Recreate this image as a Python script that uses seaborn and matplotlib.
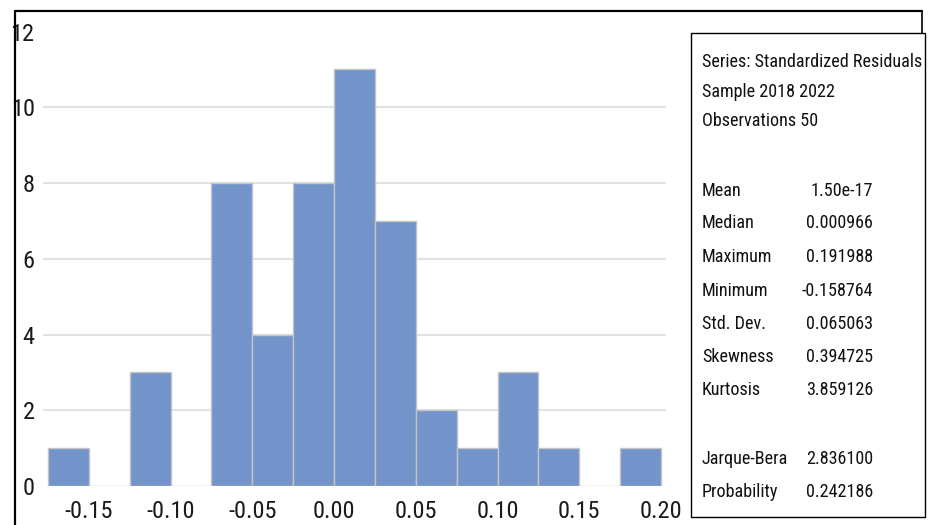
import matplotlib
matplotlib.use("Agg")
import matplotlib.pyplot as plt
import seaborn as sns
from matplotlib import font_manager
from matplotlib.font_manager import FontProperties
from matplotlib.lines import Line2D
from matplotlib.patches import Rectangle

# histogram of standardized residuals (counts per bin)
bin_edges = [-0.175, -0.15, -0.125, -0.10, -0.075, -0.05, -0.025, 0.0,
             0.025, 0.05, 0.075, 0.10, 0.125, 0.15, 0.175, 0.20]
bin_counts = [1, 0, 3, 0, 8, 4, 8, 11, 7, 2, 1, 3, 1, 0, 1]

x_ticks = [-0.15, -0.10, -0.05, 0.00, 0.05, 0.10, 0.15, 0.20]
x_tick_labels = ["-0.15", "-0.10", "-0.05", "0.00", "0.05", "0.10", "0.15", "0.20"]
y_ticks = [0, 2, 4, 6, 8, 10, 12]

header_lines = ["Series: Standardized Residuals", "Sample 2018 2022", "Observations 50"]
stat_names = ["Mean", "Median", "Maximum", "Minimum", "Std. Dev.",
              "Skewness", "Kurtosis", "Jarque-Bera", "Probability"]
stat_values = ["1.50e-17", "0.000966", "0.191988", "-0.158764", "0.065063",
               "0.394725", "3.859126", "2.836100", "0.242186"]

W, H = 929, 525


def fx(px):
    return px / W


def fy(py):
    return 1 - py / H


def pick_narrow_font():
    # the original uses a narrow (Calibri-like) face; look for a condensed one
    wanted = ["Liberation Sans Narrow", "Roboto Condensed", "Open Sans Condensed",
              "Noto Sans Condensed", "DejaVu Sans Condensed", "Arial Narrow"]
    base = ["Noto Sans", "Open Sans", "Roboto", "DejaVu Sans", "Liberation Sans", "Inter"]
    found = []
    for f in font_manager.fontManager.ttflist:
        regular = f.style == "normal" and f.weight in (400, "normal", "regular")
        if not regular:
            continue
        if f.name in wanted:
            found.append((wanted.index(f.name), f.fname))
        elif f.name in base and str(f.stretch) in ("condensed", "semi-condensed", "extra-condensed"):
            found.append((10 + base.index(f.name), f.fname))
    if found:
        found.sort()
        return FontProperties(fname=found[0][1])
    return FontProperties(family=["Roboto", "DejaVu Sans"])


sns.set_theme(style="white")
plt.rcParams["axes.unicode_minus"] = False

narrow = pick_narrow_font()

fig = plt.figure(figsize=(W / 100, H / 100), dpi=100)
fig.patch.set_facecolor("white")
renderer = fig.canvas.get_renderer()


def fit_size(sample, target_px, start=14, cap=16):
    t = fig.text(0, 0, sample, fontproperties=narrow, fontsize=start)
    w = t.get_window_extent(renderer).width
    t.remove()
    return min(cap, start * target_px / w)


box_size = fit_size("Series: Standardized Residuals", 221, cap=15)
tick_size = fit_size("-0.10", 49, cap=18)

ax = fig.add_axes([fx(43), fy(486), fx(666) - fx(43), fy(31.6) - fy(486)])

bin_centers = [(a + b) / 2 for a, b in zip(bin_edges[:-1], bin_edges[1:])]
sns.histplot(
    x=bin_centers,
    weights=bin_counts,
    bins=bin_edges,
    color="#7294CA",
    edgecolor="#C4C4C4",
    linewidth=1.0,
    alpha=1,
    ax=ax
)

ax.set_xlim(-0.178, 0.203)
ax.set_ylim(0, 12)
ax.set_xticks(x_ticks)
ax.set_xticklabels(x_tick_labels, fontproperties=narrow, fontsize=tick_size)
ax.set_yticks(y_ticks)
ax.set_yticklabels([str(v) for v in y_ticks], fontproperties=narrow, fontsize=tick_size)
ax.set_xlabel("")
ax.set_ylabel("")
ax.tick_params(axis="both", length=0, colors="#1a1a1a")
ax.tick_params(axis="x", pad=10)
ax.tick_params(axis="y", pad=6)

ax.yaxis.grid(True, color="#E2E2E2", linewidth=1.5)
ax.xaxis.grid(False)
ax.set_axisbelow(True)
gridlines = ax.get_ygridlines()
gridlines[0].set_visible(False)
gridlines[-1].set_visible(False)

for side in ["top", "right", "bottom", "left"]:
    ax.spines[side].set_visible(False)

# outer frame (open at the bottom)
fig.add_artist(Line2D([fx(15), fx(15)], [fy(525), fy(11)], transform=fig.transFigure, color="black", linewidth=1.6))
fig.add_artist(Line2D([fx(15), fx(922)], [fy(11), fy(11)], transform=fig.transFigure, color="black", linewidth=1.6))
fig.add_artist(Line2D([fx(922), fx(922)], [fy(11), fy(33)], transform=fig.transFigure, color="black", linewidth=1.2))

# statistics box
fig.add_artist(Rectangle((fx(691), fy(517)), fx(925) - fx(691), fy(33) - fy(517),
                         transform=fig.transFigure, fill=False, edgecolor="black", linewidth=1.0))

header_y = [62, 92, 121]
for text, py in zip(header_lines, header_y):
    fig.text(fx(702), fy(py), text, fontproperties=narrow, fontsize=box_size,
             ha="left", va="center", color="#111111")

stat_y = [191, 223, 257, 291, 324, 357, 390, 459, 492]
for name, value, py in zip(stat_names, stat_values, stat_y):
    fig.text(fx(702), fy(py), name, fontproperties=narrow, fontsize=box_size,
             ha="left", va="center", color="#111111")
    fig.text(fx(873), fy(py), value, fontproperties=narrow, fontsize=box_size,
             ha="right", va="center", color="#111111")

fig.savefig("out.png", dpi=100)
plt.close()
